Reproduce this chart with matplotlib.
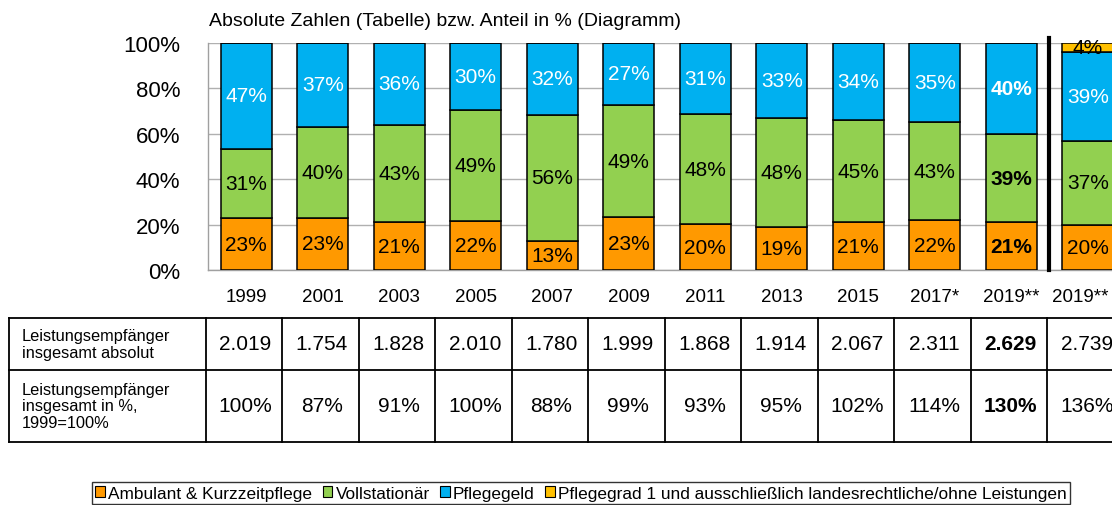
import matplotlib
matplotlib.use("Agg")
import matplotlib.pyplot as plt
import matplotlib.transforms as mtransforms
from matplotlib.patches import Patch
import numpy as np

plt.rcParams['font.family'] = ['Liberation Sans', 'DejaVu Sans']

years = ["1999", "2001", "2003", "2005", "2007", "2009", "2011", "2013",
         "2015", "2017*", "2019**", "2019**"]
ambulant = [23, 23, 21, 22, 13, 23, 20, 19, 21, 22, 21, 20]
vollstationaer = [31, 40, 43, 49, 56, 49, 48, 48, 45, 43, 39, 37]
pflegegeld = [47, 37, 36, 30, 32, 27, 31, 33, 34, 35, 40, 39]
pflegegrad1 = [0, 0, 0, 0, 0, 0, 0, 0, 0, 0, 0, 4]
absolut = ["2.019", "1.754", "1.828", "2.010", "1.780", "1.999", "1.868",
           "1.914", "2.067", "2.311", "2.629", "2.739"]
prozent = ["100%", "87%", "91%", "100%", "88%", "99%", "93%", "95%",
           "102%", "114%", "130%", "136%"]
row_labels = ["Leistungsempfänger\ninsgesamt absolut",
              "Leistungsempfänger\ninsgesamt in %,\n1999=100%"]
series_names = ["Ambulant & Kurzzeitpflege", "Vollstationär", "Pflegegeld",
                "Pflegegrad 1 und ausschließlich landesrechtliche/ohne Leistungen"]
colors = ["#FF9900", "#92D050", "#00B0F0", "#FFC000"]
text_colors = ["black", "black", "white", "black"]
bold_index = 10

W, H = 1112, 506
fig = plt.figure(figsize=(W / 100, H / 100), dpi=100)

XMIN, XMAX = -0.5, 11.317
ax = fig.add_axes([208 / W, 1 - 271 / H, (W - 208) / W, (271 - 44) / H])
x = np.arange(len(years))
data = np.array([ambulant, vollstationaer, pflegegeld, pflegegrad1], dtype=float)
totals = data.sum(axis=0)
shares = data / totals * 100
bottom = np.zeros(len(years))
for s in range(4):
    ax.bar(x, shares[s], bottom=bottom, width=0.667, color=colors[s],
           edgecolor="black", linewidth=1.1, zorder=3)
    for i in range(len(years)):
        if data[s, i] > 0:
            ax.text(x[i], bottom[i] + shares[s, i] / 2, f"{int(data[s, i])}%",
                    ha="center", va="center", fontsize=15, color=text_colors[s],
                    fontweight="bold" if i == bold_index else "normal", zorder=4)
    bottom += shares[s]

ax.set_xlim(XMIN, XMAX)
ax.set_ylim(0, 100)
ax.set_yticks([0, 20, 40, 60, 80, 100])
ax.set_yticklabels([f"{v}%" for v in [0, 20, 40, 60, 80, 100]], fontsize=16)
ax.tick_params(axis="y", length=0, pad=20)
ax.set_xticks(x)
ax.set_xticklabels(years, fontsize=13.5)
ax.tick_params(axis="x", length=0, pad=13)
last = ax.get_xticklabels()[-1]
last.set_transform(last.get_transform() +
                   mtransforms.ScaledTranslation(-7 / 100, 0, fig.dpi_scale_trans))
ax.yaxis.grid(True, color="#B0B0B0", linewidth=1.0, zorder=0)
for sp in ["top", "right"]:
    ax.spines[sp].set_visible(False)
for sp in ["left", "bottom"]:
    ax.spines[sp].set_color("#A0A0A0")
    ax.spines[sp].set_linewidth(1.0)
ax.axvline(10.5, ymin=0, ymax=1.02, color="black", linewidth=3, clip_on=False, zorder=5)

fig.text(209 / W, 1 - 22 / H, "Absolute Zahlen (Tabelle) bzw. Anteil in % (Diagramm)",
         fontsize=14, ha="left", va="center")

# table
tab = fig.add_axes([208 / W, 1 - 443 / H, (W - 208) / W, (443 - 319) / H])
tab.set_xlim(XMIN, XMAX)
tab.set_ylim(124, 0)
tab.axis("off")
left_x = XMIN - (208 - 9) / 76.5
first_col = XMIN - 2 / 76.5
lw = 1.3
for yy in [0, 52, 124]:
    tab.plot([left_x, XMAX + 1], [yy, yy], color="black", lw=lw, clip_on=False)
for xx in [left_x, first_col] + [i + 0.5 - 2 / 76.5 for i in range(len(years) - 1)]:
    tab.plot([xx, xx], [0, 124], color="black", lw=lw, clip_on=False)
tab.text(left_x + 13 / 76.5, 26, row_labels[0], fontsize=11.8, ha="left", va="center",
         linespacing=1.1, clip_on=False)
tab.text(left_x + 13 / 76.5, 88, row_labels[1], fontsize=11.8, ha="left", va="center",
         linespacing=1.1, clip_on=False)
for i in range(len(years)):
    fw = "bold" if i == bold_index else "normal"
    tab.text(x[i] - 0.01, 26, absolut[i], fontsize=15, ha="center", va="center",
             fontweight=fw, clip_on=False)
    tab.text(x[i] - 0.01, 88, prozent[i], fontsize=15, ha="center", va="center",
             fontweight=fw, clip_on=False)

handles = [Patch(facecolor=c, edgecolor="black", linewidth=0.8) for c in colors]
leg = fig.legend(handles, series_names, loc="lower left", ncol=4,
                 bbox_to_anchor=(92 / W, 0.002), fontsize=12.4, frameon=True,
                 fancybox=False, edgecolor="black", handlelength=0.55,
                 handleheight=0.55, handletextpad=0.2, columnspacing=0.6,
                 borderpad=0.2, borderaxespad=0.0)
leg.get_frame().set_linewidth(1.0)

fig.savefig("out.png", dpi=100)
